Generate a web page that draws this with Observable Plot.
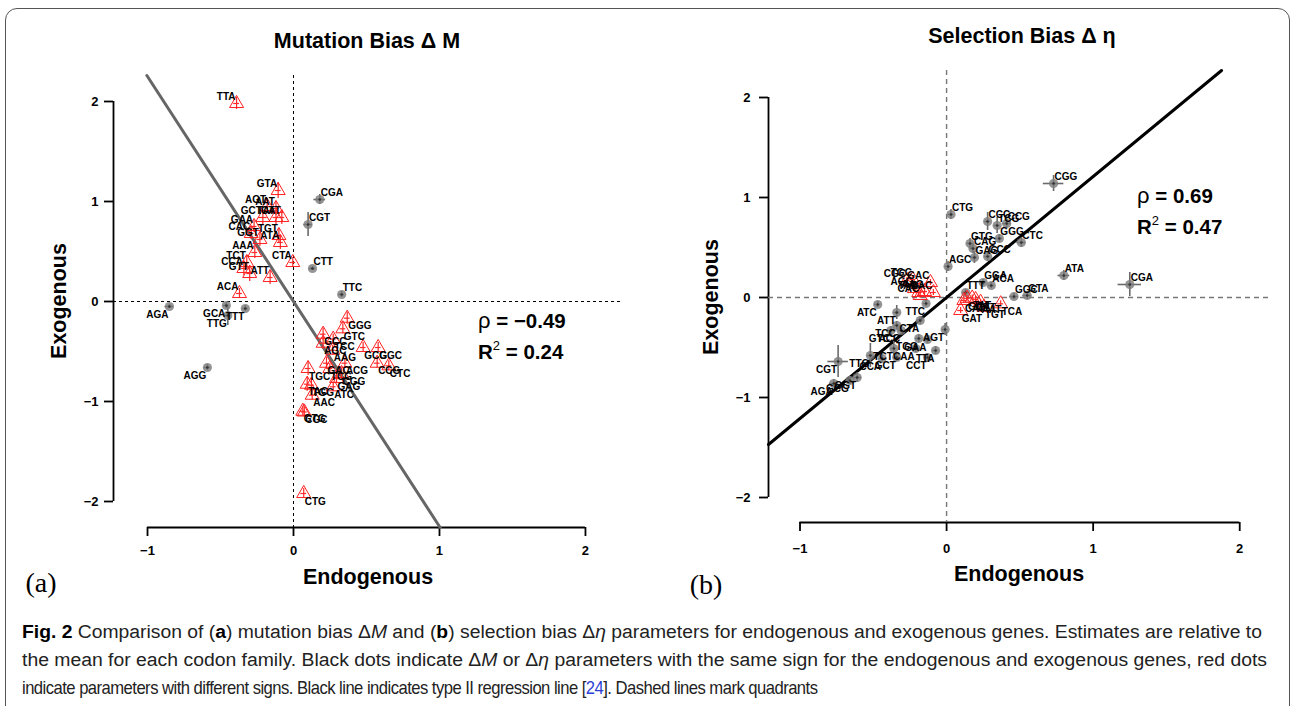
<!DOCTYPE html>
<html><head><meta charset="utf-8">
<script src="https://cdn.jsdelivr.net/npm/d3@7"></script>
<script src="https://cdn.jsdelivr.net/npm/@observablehq/plot@0.6"></script>
<style>
html,body{margin:0;padding:0;background:#fff}
body{width:1292px;height:706px;overflow:hidden;position:relative;font-family:"Liberation Sans",Arial,sans-serif;color:#000}
#box{position:absolute;left:5px;top:8px;width:1285px;height:760px;border:1.5px solid #555;border-radius:12px;box-sizing:border-box}
.c{position:absolute;transform:translate(-50%,-50%);white-space:nowrap;line-height:1}
.title{font-weight:bold;font-size:21.5px}
.axl{font-weight:bold;font-size:21.5px}
.rot{transform:translate(-50%,-50%) rotate(-90deg)}
.tag{font-family:"Liberation Serif","Times New Roman",serif;font-size:28px}
.stat{position:absolute;font-weight:bold;font-size:20.5px;line-height:25px;white-space:nowrap}
.stat .rho{font-weight:normal;font-size:22px}
.stat sup{font-size:13px;font-weight:normal;vertical-align:9px}
.panel{position:absolute}
</style></head><body>
<div id="box"></div>
<div class="c title" style="left:367px;top:42px">Mutation Bias Δ M</div>
<div class="c title" style="left:1022px;top:37px">Selection Bias Δ η</div>
<div id="pa" class="panel" style="left:0;top:60px"></div>
<div id="pb" class="panel" style="left:650px;top:60px"></div>
<div class="c axl" style="left:368px;top:578px">Endogenous</div>
<div class="c axl" style="left:1019px;top:575px">Endogenous</div>
<div class="c axl rot" style="left:60px;top:301px">Exogenous</div>
<div class="c axl rot" style="left:712px;top:297px">Exogenous</div>
<div class="c tag" style="left:41px;top:583px">(a)</div>
<div class="c tag" style="left:706px;top:585px">(b)</div>
<div class="stat" style="left:478px;top:308px"><span class="rho">ρ</span> = −0.49<br>R<sup>2</sup> = 0.24</div>
<div class="stat" style="left:1137px;top:183px"><span class="rho">ρ</span> = 0.69<br>R<sup>2</sup> = 0.47</div>
<svg id="cap" style="position:absolute;left:0;top:0" width="1292" height="706"></svg>
<script>
// ---------- Panel (a): mutation bias ΔM ----------
const aCodon = ["TTA","GTA","AGT","AAT","GCT","TAT","CAT","GAA","CAC","TGT","GGT","ATA","AAA","TCT","CCA","GTT","ATT","CTA","ACA",
  "CGA","CGT","CTT","TTC","AGA","GCA","TTG","TTT","AGG",
  "GGG","GTC","GCC","TCC","AGC","AAG","GCG","GGC","ACG","GAC","TGC","TCG","CCG","CTC","CGG","GAG","ATC","TAC","TGG","AAC","GTG","CGC","CTG"];
const aEndo = [-0.39,-0.105,-0.18,-0.12,-0.21,-0.12,-0.08,-0.27,-0.29,-0.10,-0.23,-0.09,-0.265,-0.32,-0.34,-0.30,-0.16,-0.005,-0.37,
  0.18,0.10,0.13,0.33,-0.85,-0.46,-0.45,-0.33,-0.59,
  0.368,0.338,0.203,0.272,0.203,0.269,0.477,0.58,0.352,0.226,0.10,0.249,0.573,0.653,0.329,0.295,0.272,0.094,0.123,0.128,0.064,0.074,0.07];
const aExo = [1.98,1.11,0.95,0.93,0.84,0.84,0.84,0.75,0.68,0.66,0.62,0.59,0.49,0.39,0.33,0.28,0.24,0.39,0.08,
  1.02,0.77,0.33,0.07,-0.05,-0.04,-0.14,-0.07,-0.66,
  -0.167,-0.273,-0.327,-0.377,-0.417,-0.487,-0.46,-0.46,-0.617,-0.617,-0.67,-0.67,-0.617,-0.643,-0.72,-0.77,-0.853,-0.827,-0.837,-0.937,-1.097,-1.105,-1.92];
const aXerr = [0.02,0.02,0.02,0.02,0.03,0.02,0.02,0.02,0.02,0.02,0.02,0.02,0.02,0.02,0.02,0.02,0.02,0.02,0.02,
  0.04,0.03,0.02,0.02,0.03,0.02,0.02,0.02,0.02,
  0.02,0.02,0.02,0.02,0.02,0.02,0.02,0.02,0.02,0.02,0.02,0.02,0.02,0.02,0.02,0.02,0.02,0.02,0.02,0.02,0.02,0.02,0.02];
const aYerr = [0.06,0.08,0.07,0.07,0.07,0.07,0.07,0.06,0.06,0.07,0.07,0.07,0.06,0.07,0.07,0.08,0.07,0.05,0.05,
  0.05,0.12,0.02,0.03,0.02,0.03,0.10,0.03,0.03,
  0.06,0.05,0.06,0.05,0.06,0.05,0.05,0.05,0.05,0.06,0.07,0.05,0.05,0.05,0.05,0.05,0.05,0.07,0.07,0.05,0.05,0.05,0.05];
const aSlope = -2.25, aIntercept = 0;

// ---------- Panel (b): selection bias Δη ----------
const bCodon = ["CGG","CTG","CCC","TCG","CCG","GGG","CTC","GTG","CAG","GAG","GCC","AGC","GGA","ACA","TTT","GGC","GTA","ATA","CGA",
  "GAT","CAT","GCA","TAT","CTT","AAT","TGT","TCA",
  "CGC","TGC","GAC","AGG","AAG","TAC","CAC","AAC",
  "TTC","ATC","ATT","CTA","TCC","GTC","ACC","AGT","TGG","GAA","CAA","TCT","TTA","CCT","GCT","CCA","TTG","CGT","GGT","AGA","GCG"];
const bEndo = [0.73,0.03,0.28,0.345,0.41,0.36,0.51,0.16,0.18,0.19,0.28,0.01,0.25,0.305,0.13,0.46,0.55,0.80,1.25,
  0.096,0.118,0.14,0.175,0.198,0.232,0.255,0.369,
  -0.27,-0.23,-0.11,-0.22,-0.15,-0.19,-0.18,-0.09,
  -0.14,-0.47,-0.34,-0.18,-0.34,-0.38,-0.31,-0.01,-0.19,-0.13,-0.21,-0.36,-0.075,-0.13,-0.34,-0.44,-0.52,-0.74,-0.61,-0.77,-0.66];
const bExo = [1.14,0.83,0.76,0.72,0.74,0.59,0.55,0.54,0.49,0.40,0.41,0.31,0.15,0.12,0.05,0.01,0.02,0.22,0.13,
  -0.13,-0.03,-0.008,-0.005,-0.02,-0.047,-0.097,-0.063,
  0.17,0.18,0.15,0.09,0.06,0.05,0.02,0.05,
  -0.06,-0.07,-0.15,-0.23,-0.28,-0.33,-0.33,-0.32,-0.41,-0.42,-0.51,-0.51,-0.53,-0.60,-0.60,-0.61,-0.58,-0.64,-0.80,-0.86,-0.83];
const bXerr = [0.07,0.02,0.02,0.02,0.03,0.02,0.03,0.02,0.02,0.02,0.02,0.02,0.02,0.02,0.02,0.03,0.03,0.04,0.08,
  0.02,0.02,0.02,0.02,0.02,0.02,0.02,0.02,
  0.02,0.02,0.02,0.02,0.02,0.02,0.02,0.02,
  0.02,0.02,0.02,0.02,0.02,0.02,0.02,0.02,0.02,0.02,0.02,0.02,0.02,0.02,0.02,0.02,0.02,0.07,0.03,0.03,0.02];
const bYerr = [0.08,0.05,0.09,0.08,0.05,0.04,0.05,0.05,0.05,0.06,0.05,0.05,0.03,0.03,0.03,0.03,0.04,0.05,0.12,
  0.03,0.03,0.03,0.03,0.03,0.03,0.03,0.03,
  0.03,0.03,0.03,0.03,0.03,0.03,0.03,0.03,
  0.03,0.03,0.07,0.04,0.04,0.04,0.04,0.06,0.04,0.04,0.04,0.07,0.04,0.04,0.04,0.04,0.12,0.16,0.05,0.04,0.04];
const bSlope = 1.21, bIntercept = 0;

const ticksA_x = [-1,0,1,2], ticksA_y = [-2,-1,0,1,2];
const ticksB_x = [-1,0,1,2], ticksB_y = [-2,-1,0,1,2];

function rows(codon, endo, exo, xe, ye){
  return codon.map((c,i)=>({codon:c, x:endo[i], y:exo[i], xe:xe[i], ye:ye[i], same: Math.sign(endo[i])*Math.sign(exo[i])>0}));
}
function regLine(m,b,xd,yd){
  const xs=[(yd[0]-b)/m,(yd[1]-b)/m].sort((p,q)=>p-q);
  const x0=Math.max(xd[0],xs[0]), x1=Math.min(xd[1],xs[1]);
  return [{x:x0,y:m*x0+b},{x:x1,y:m*x1+b}];
}
const hasAxisMarks = typeof Plot.axisX === "function";
function panel(opts){
  const {data, xDom, yDom, xt, yt, width, height, ml, mr, mt, mb, m, b, regColor, dashColor, dash, dashW, xPad, yPad} = opts;
  const black = data.filter(d=>d.same), red = data.filter(d=>!d.same);
  const lab = (fx,fy,anchor,dx,dy)=>Plot.text(data.filter(d=>fx(d.x)&&fy(d.y)),{x:"x",y:"y",text:"codon",textAnchor:anchor,dx,dy,fontSize:10,fontWeight:"bold",fill:"#000"});
  const axisMarks = hasAxisMarks ? [
    Plot.axisX(xt,{anchor:"bottom",tickSize:9,tickPadding:xPad,fontSize:13,fontWeight:"bold",strokeWidth:1.8,label:null,tickFormat:d3.format("d")}),
    Plot.axisY(yt,{anchor:"left",tickSize:9,tickPadding:yPad,fontSize:13,fontWeight:"bold",strokeWidth:1.8,label:null,tickFormat:d3.format("d")})
  ] : [];
  const svg = Plot.plot({
    width, height, marginLeft:ml, marginRight:mr, marginTop:mt, marginBottom:mb,
    style:{fontFamily:"'Liberation Sans',Arial,sans-serif",fontSize:"13px",fontWeight:"bold",overflow:"visible",background:"transparent"},
    x:{domain:xDom, ticks:xt, tickSize:9, tickPadding:xPad, label:null, tickFormat:d3.format("d")},
    y:{domain:yDom, ticks:yt, tickSize:9, tickPadding:yPad, label:null, tickFormat:d3.format("d")},
    marks:[
      ...axisMarks,
      Plot.ruleX([xDom[0]],{y1:d3.min(yt),y2:d3.max(yt),stroke:"#000",strokeWidth:1.8}),
      Plot.ruleY([yDom[0]],{x1:d3.min(xt),x2:d3.max(xt),stroke:"#000",strokeWidth:1.8}),
      Plot.ruleX([0],{stroke:dashColor,strokeDasharray:dash,strokeWidth:dashW}),
      Plot.ruleY([0],{stroke:dashColor,strokeDasharray:dash,strokeWidth:dashW}),
      Plot.line(regLine(m,b,xDom,yDom),{x:"x",y:"y",stroke:regColor,strokeWidth:3}),
      Plot.ruleY(black,{y:"y",x1:d=>d.x-d.xe,x2:d=>d.x+d.xe,stroke:"#6a6a6a",strokeWidth:1.6}),
      Plot.ruleX(black,{x:"x",y1:d=>d.y-d.ye,y2:d=>d.y+d.ye,stroke:"#6a6a6a",strokeWidth:1.6}),
      Plot.dot(black,{x:"x",y:"y",r:4.6,fill:"#7a7a7a",fillOpacity:0.8,stroke:"none"}),
      Plot.dot(black,{x:"x",y:"y",r:1.3,fill:"#333",stroke:"none"}),
      Plot.ruleY(red,{y:"y",x1:d=>d.x-d.xe,x2:d=>d.x+d.xe,stroke:"#ff2a2a",strokeWidth:1.2}),
      Plot.ruleX(red,{x:"x",y1:d=>d.y-d.ye,y2:d=>d.y+d.ye,stroke:"#ff2a2a",strokeWidth:1.2}),
      Plot.dot(red,{x:"x",y:"y",symbol:"triangle",r:5.2,stroke:"#ff2020",fill:"none",strokeWidth:1}),
      lab(x=>x<0,y=>y>=0,"end",-1,-7),
      lab(x=>x>=0,y=>y>=0,"start",1,-7),
      lab(x=>x<0,y=>y<0,"end",-1,8),
      lab(x=>x>=0,y=>y<0,"start",1,8)
    ]
  });
  svg.querySelectorAll("text").forEach(t=>{
    if(/^[−\-]?\d$/.test(t.textContent.trim())){
      t.setAttribute("font-size","13"); t.style.fontSize="13px"; t.style.fontWeight="bold";
    }
  });
  return svg;
}
document.getElementById("pa").appendChild(panel({
  data: rows(aCodon,aEndo,aExo,aXerr,aYerr), xDom:[-1.233,2.24], yDom:[-2.26,2.26], xt:ticksA_x, yt:ticksA_y,
  width:650, height:530, ml:113, mr:30, mt:15, mb:63, m:aSlope, b:aIntercept,
  regColor:"#666", dashColor:"#000", dash:"3,3", dashW:1, xPad:9, yPad:6
}));
document.getElementById("pb").appendChild(panel({
  data: rows(bCodon,bEndo,bExo,bXerr,bYerr), xDom:[-1.215,2.21], yDom:[-2.25,2.27], xt:ticksB_x, yt:ticksB_y,
  width:642, height:530, ml:118, mr:22, mt:10, mb:68, m:bSlope, b:bIntercept,
  regColor:"#000", dashColor:"#777", dash:"5,4", dashW:1.4, xPad:12, yPad:9
}));

// ---------- Caption ----------
const capLines = [
  {w:1240, parts:[["Fig. 2","b"],[" Comparison of (",""],["a","b"],[") mutation bias Δ",""],["M","i"],[" and (",""],["b","b"],[") selection bias Δ",""],["η","i"],[" parameters for endogenous and exogenous genes. Estimates are relative to",""]]},
  {w:1245, parts:[["the mean for each codon family. Black dots indicate Δ",""],["M","i"],[" or Δ",""],["η","i"],[" parameters with the same sign for the endogenous and exogenous genes, red dots",""]]},
  {w:796, parts:[["indicate parameters with different signs. Black line indicates type II regression line [",""],["24","blue"],["]. Dashed lines mark quadrants",""]]}
];
const capRoot = d3.select("#cap");
const capTexts = capLines.map((ln,i)=>{
  const g = capRoot.append("g");
  const t = g.append("text").attr("x",0).attr("y",638+i*28).attr("font-size",18).attr("fill","#222")
    .attr("font-family","'Liberation Sans',Arial,sans-serif");
  ln.parts.forEach(([s,st])=>{
    const sp = t.append("tspan").text(s);
    if(st==="b") sp.attr("font-weight","bold").attr("fill","#000");
    if(st==="i") sp.attr("font-style","italic");
    if(st==="blue") sp.attr("fill","#2a3fd6");
  });
  return {g,t};
});
capTexts.forEach(({g,t},i)=>{
  const L = t.node().getComputedTextLength();
  if(i<2){
    g.attr("transform","translate(22,0)");
    t.attr("textLength",capLines[i].w).attr("lengthAdjust","spacingAndGlyphs");
  } else {
    const s = Math.sqrt(capLines[i].w/L);
    g.attr("transform",`translate(22,0) scale(${s},1)`);
    t.attr("textLength",capLines[i].w/s).attr("lengthAdjust","spacing");
  }
});
</script>
</body></html>
